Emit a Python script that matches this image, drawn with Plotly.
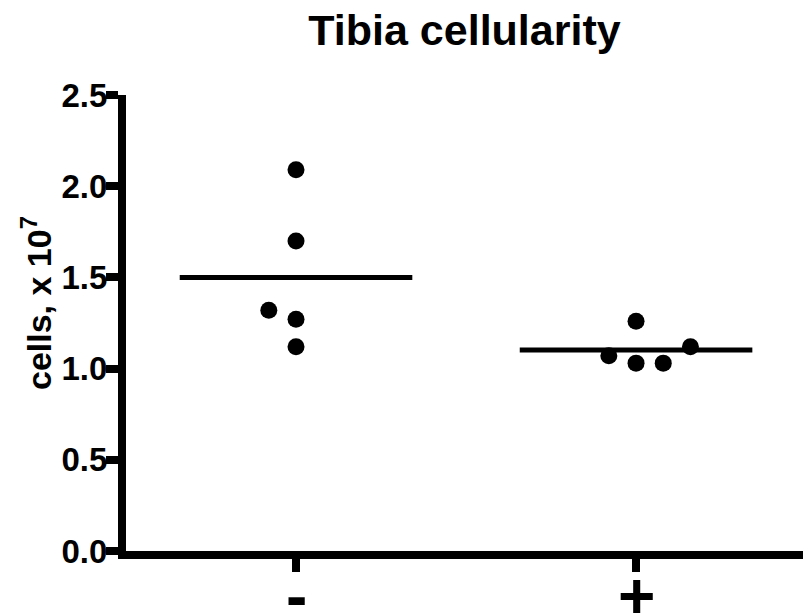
import plotly.graph_objects as go

# Data
categories = ["-", "+"]
minus_values = [2.09, 1.70, 1.32, 1.27, 1.12]
minus_jitter = [0.0, 0.0, -0.08, 0.0, 0.0]
plus_values = [1.26, 1.07, 1.03, 1.03, 1.12]
plus_jitter = [0.0, -0.08, 0.0, 0.08, 0.16]
y_ticks = [0.0, 0.5, 1.0, 1.5, 2.0, 2.5]

FONT = "Liberation Sans, Arial, Helvetica, sans-serif"
groups = [minus_values, plus_values]
jitters = [minus_jitter, plus_jitter]

fig = go.Figure()
for i, (vals, jit) in enumerate(zip(groups, jitters)):
    fig.add_trace(go.Scatter(
        x=[i + j for j in jit], y=vals, mode="markers",
        marker=dict(color="black", size=17, line=dict(width=0)),
        showlegend=False, hoverinfo="y"))
    m = sum(vals) / len(vals)
    fig.add_trace(go.Scatter(
        x=[i - 0.342, i + 0.342], y=[m, m], mode="lines",
        line=dict(color="black", width=5), showlegend=False, hoverinfo="y"))

# category labels below the x axis (large glyphs)
for i, c in enumerate(categories):
    fig.add_annotation(x=i, xref="x", y=0, yref="y", yanchor="top",
                       yshift=-7, text="<b>%s</b>" % c, showarrow=False,
                       font=dict(size=64, family=FONT, color="black"))

# y-axis title
fig.add_annotation(x=0, xref="paper", xanchor="center", xshift=-90,
                   y=(551 - 303) / (551 - 95), yref="paper", yanchor="middle",
                   textangle=-90, text="<b>cells, x 10<sup>7</sup></b>",
                   showarrow=False, font=dict(size=34, family=FONT, color="black"))

fig.update_layout(
    width=803, height=616,
    margin=dict(l=126, r=0, t=95, b=65, autoexpand=False),
    paper_bgcolor="white", plot_bgcolor="white",
    font=dict(family=FONT, color="black"),
    title=dict(text="<b>Tibia cellularity</b>", x=(126 + 803) / 2 / 803,
               xref="container", xanchor="center",
               y=1 - 30 / 616, yref="container", yanchor="middle",
               font=dict(size=43, family=FONT, color="black")),
)
fig.update_xaxes(
    range=[-0.5, 1.491], tickmode="array", tickvals=[0, 1],
    showticklabels=False,
    showline=True, linecolor="black", linewidth=8,
    ticks="outside", ticklen=13, tickwidth=8, tickcolor="black",
    showgrid=False, zeroline=False, fixedrange=True, automargin=False)
fig.update_yaxes(
    range=[0, 2.5], tickmode="array", tickvals=y_ticks,
    ticktext=["<b>%.1f</b>" % v for v in y_ticks],
    tickfont=dict(size=33, family=FONT, color="black"),
    ticklabelstandoff=-8,
    showline=True, linecolor="black", linewidth=8,
    ticks="outside", ticklen=12, tickwidth=8, tickcolor="black",
    showgrid=False, zeroline=False, fixedrange=True, automargin=False)

fig.write_html("out.html")
